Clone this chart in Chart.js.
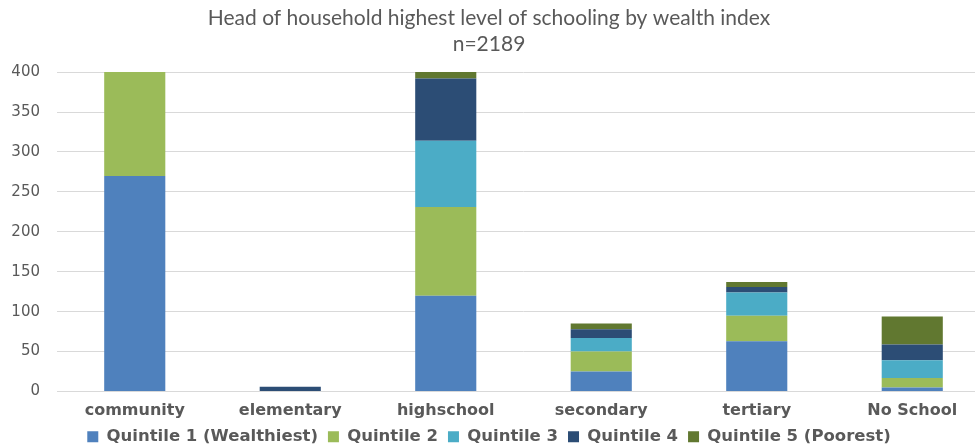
<!DOCTYPE html>
<html>
<head>
<meta charset="utf-8">
<script src="https://cdn.jsdelivr.net/npm/chart.js@4/dist/chart.umd.min.js"></script>
<style>
  html, body { margin: 0; padding: 0; background: #fff; overflow: hidden; }
  #wrap { width: 990px; height: 446px; position: relative; }
</style>
</head>
<body>
<div id="wrap"><canvas id="chart"></canvas></div>
<script>
// --- Chart data ---

const CATEGORIES = ['community', 'elementary', 'highschool', 'secondary', 'tertiary', 'No School'];

const Q1 = [270, 0, 120, 25, 63, 5];
const Q2 = [130, 0, 111, 25, 32, 12];
const Q3 = [0, 0, 83, 17, 29, 22];
const Q4 = [0, 6, 78, 11, 7, 20];
const Q5 = [0, 0, 9, 7, 6, 35];

const SERIES_NAMES = ['Quintile 1 (Wealthiest)', 'Quintile 2', 'Quintile 3', 'Quintile 4', 'Quintile 5 (Poorest)'];
const SERIES_COLORS = ['#4f81bd', '#9bbb59', '#4bacc6', '#2c4d75', '#617830'];

const TITLE_LINES = ['Head of household highest level of schooling by wealth index', 'n=2189'];
const Y_MIN = 0, Y_MAX = 400, Y_STEP = 50;

const TITLE_FONT = "Lato, 'Open Sans', sans-serif";
const FONT = "'DejaVu Sans', Verdana, sans-serif";

const datasets = [Q1, Q2, Q3, Q4, Q5].map((vals, i) => ({
  label: SERIES_NAMES[i],
  data: vals,
  backgroundColor: SERIES_COLORS[i],
  borderWidth: 0,
  categoryPercentage: 1,
  barPercentage: 0.393
}));

new Chart(document.getElementById('chart'), {
  type: 'bar',
  data: { labels: CATEGORIES, datasets },
  options: {
    responsive: true,
    maintainAspectRatio: false,
    animation: false,
    layout: { padding: { top: 5, left: -12, right: 0, bottom: -9 } },
    plugins: {
      title: {
        display: true,
        text: TITLE_LINES,
        color: '#595959',
        font: { family: TITLE_FONT, size: 21, weight: 'normal', lineHeight: 1.24 },
        padding: { top: 0, bottom: 15 }
      },
      legend: {
        position: 'bottom',
        labels: {
          color: '#595959',
          font: { family: FONT, size: 16.5, weight: 'bold', lineHeight: 1 },
          boxWidth: 11,
          boxHeight: 11,
          padding: 10
        }
      },
      tooltip: { enabled: false }
    },
    scales: {
      x: {
        stacked: true,
        grid: { display: false, drawTicks: false },
        border: { color: '#d9d9d9', width: 1 },
        ticks: {
          color: '#595959',
          font: { family: FONT, size: 16, weight: 'bold', lineHeight: 1 },
          padding: 11
        },
        afterFit: (axis) => { axis.height = 27; }
      },
      y: {
        stacked: true,
        min: Y_MIN, max: Y_MAX,
        ticks: {
          stepSize: Y_STEP,
          color: '#595959',
          font: { family: FONT, size: 15 },
          padding: 17
        },
        grid: { color: '#d9d9d9', drawTicks: false },
        border: { display: false },
        afterFit: (axis) => { axis.width = 69; }
      }
    }
  }
});
</script>
</body>
</html>
